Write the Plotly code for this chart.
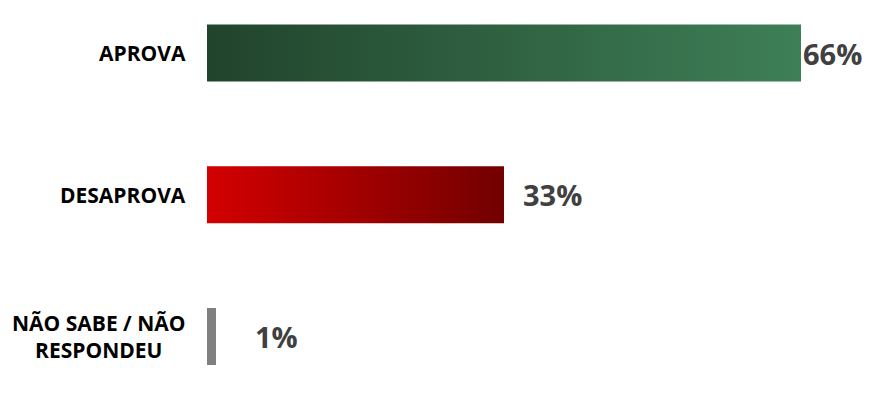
import plotly.graph_objects as go

categories = ["APROVA", "DESAPROVA", "NÃO SABE / NÃO<br>RESPONDEU"]
values = [66, 33, 1]
value_labels = ["66%", "33%", "1%"]

gradients = [
    ["#21442c", "#3e7f57"],
    ["#d30000", "#720000"],
    ["#808080", "#808080"],
]
label_shift = [0, 17, 37]
half_h = 0.201

fig = go.Figure()
for i, (cat, v) in enumerate(zip(categories, values)):
    xs = [0, v, v, 0, 0]
    ys = [i - half_h, i - half_h, i + half_h, i + half_h, i - half_h]
    fig.add_trace(go.Scatter(
        x=xs, y=ys, mode="lines", fill="toself",
        line=dict(width=0, color=gradients[i][1]),
        fillgradient=dict(type="horizontal",
                          colorscale=[[0, gradients[i][0]], [1, gradients[i][1]]]),
        hoverinfo="skip", showlegend=False,
    ))
    fig.add_annotation(
        x=v, y=i, text=value_labels[i], showarrow=False,
        xanchor="left", yanchor="middle", xshift=label_shift[i],
        font=dict(family="Open Sans", size=29, color="#404040", weight="bold"),
    )
    fig.add_annotation(
        xref="paper", x=0, y=i, text=cat, showarrow=False,
        xanchor="right", yanchor="middle", xshift=-19, align="center",
        font=dict(family="Open Sans", size=21, color="#000000", weight="bold"),
    )

fig.update_layout(
    width=883, height=410,
    margin=dict(l=199, r=0, t=0, b=0),
    paper_bgcolor="white", plot_bgcolor="white",
    xaxis=dict(range=[0, 76.0], visible=False, fixedrange=True),
    yaxis=dict(range=[2.5749, -0.3175], visible=False, fixedrange=True),
)
fig.write_html("out.html")
